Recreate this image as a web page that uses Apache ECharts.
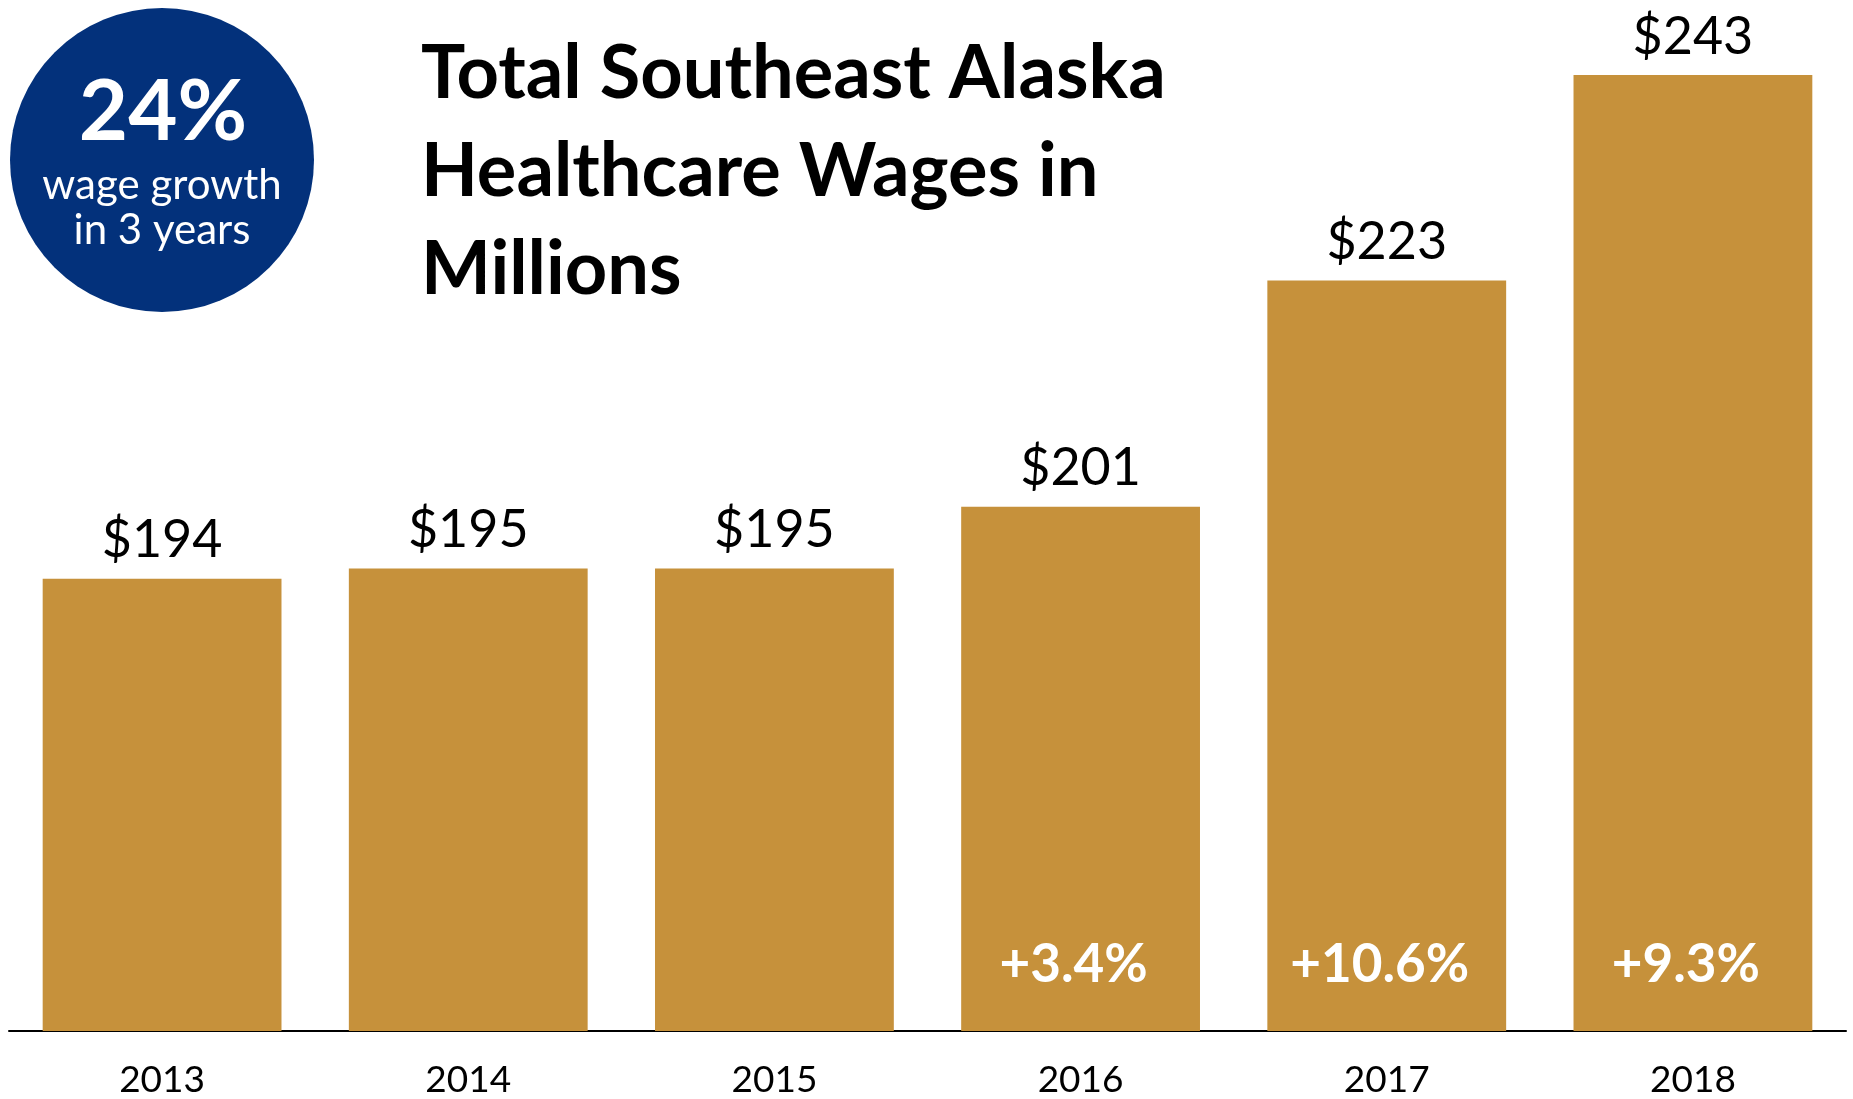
<!DOCTYPE html>
<html>
<head>
<meta charset="utf-8">
<title>Southeast Alaska Healthcare Wages</title>
<script src="https://cdn.jsdelivr.net/npm/echarts@6/dist/echarts.min.js"></script>
<style>
  html, body { margin: 0; padding: 0; background: #fff; }
  #chart { width: 1853px; height: 1099px; }
</style>
</head>
<body>
<div id="chart"></div>
<script>
  // data
  var years = ['2013', '2014', '2015', '2016', '2017', '2018'];
  var wages = [194, 195, 195, 201, 223, 243];
  var growthLabels = ['', '', '', '+3.4%', '+10.6%', '+9.3%'];

  var gold = '#c6913b';
  var navy = '#03317b';
  var font = 'Lato';

  var chart = echarts.init(document.getElementById('chart'));
  chart.setOption({
    animation: false,
    title: {
      text: 'Total Southeast Alaska\nHealthcare Wages in\nMillions',
      left: 416,
      top: 20,
      textStyle: {
        fontFamily: font,
        fontWeight: 'bold',
        fontSize: 74,
        lineHeight: 98,
        color: '#000'
      }
    },
    grid: {
      left: 9,
      right: 7,
      top: 3,
      bottom: 67,
      containLabel: false
    },
    xAxis: {
      type: 'category',
      data: years,
      axisTick: { show: false },
      axisLine: { lineStyle: { color: '#000', width: 2 } },
      axisLabel: {
        margin: 31,
        fontFamily: font,
        fontSize: 37,
        color: '#000'
      }
    },
    yAxis: {
      type: 'value',
      min: 150,
      max: 250,
      show: false
    },
    series: [
      {
        name: 'wages',
        type: 'bar',
        data: wages,
        barCategoryGap: '22%',
        itemStyle: { color: gold },
        label: {
          show: true,
          position: 'top',
          distance: 12,
          formatter: function (p) { return '$' + p.value; },
          fontFamily: font,
          fontSize: 52,
          color: '#000'
        }
      },
      {
        name: 'growth',
        type: 'bar',
        data: wages,
        barGap: '-100%',
        barCategoryGap: '22%',
        silent: true,
        itemStyle: { color: 'rgba(0,0,0,0)' },
        label: {
          show: true,
          position: 'insideBottom',
          distance: 40,
          offset: [-7, 0],
          formatter: function (p) { return growthLabels[p.dataIndex]; },
          fontFamily: font,
          fontWeight: 'bold',
          fontSize: 53,
          color: '#fff'
        }
      }
    ],
    graphic: [
      {
        type: 'circle',
        shape: { cx: 162, cy: 160, r: 152 },
        style: { fill: navy }
      },
      {
        type: 'text',
        x: 163,
        y: 113,
        style: {
          text: '24%',
          align: 'center',
          verticalAlign: 'middle',
          fontFamily: font,
          fontWeight: 'bold',
          fontSize: 85,
          fill: '#fff'
        }
      },
      {
        type: 'text',
        x: 162,
        y: 185,
        style: {
          text: 'wage growth',
          align: 'center',
          verticalAlign: 'middle',
          fontFamily: font,
          fontSize: 42,
          fill: '#fff'
        }
      },
      {
        type: 'text',
        x: 162,
        y: 230,
        style: {
          text: 'in 3 years',
          align: 'center',
          verticalAlign: 'middle',
          fontFamily: font,
          fontSize: 42,
          fill: '#fff'
        }
      }
    ]
  });
</script>
</body>
</html>
